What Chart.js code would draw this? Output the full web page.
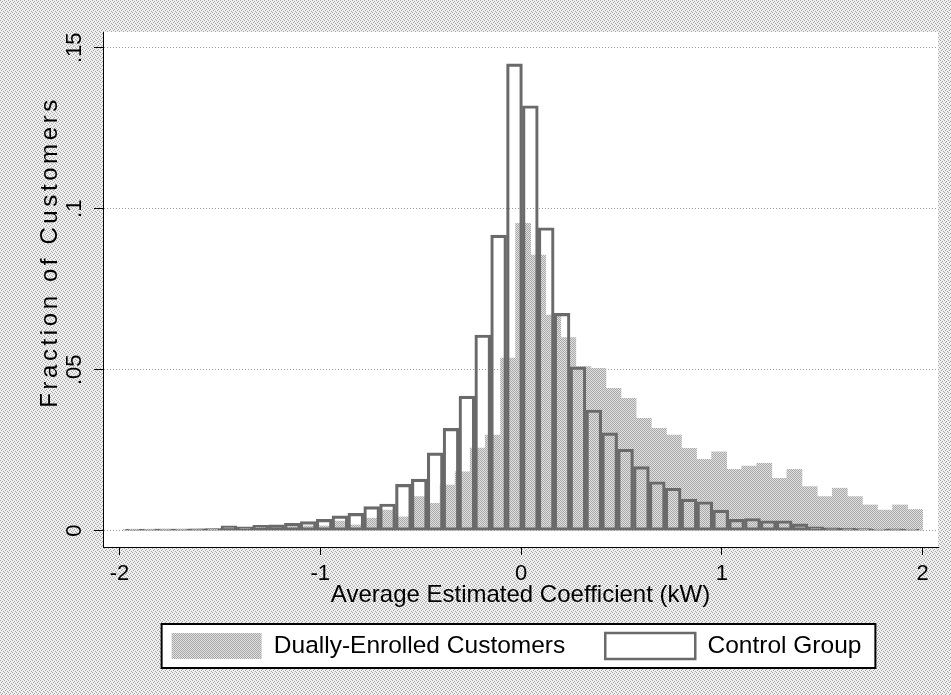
<!DOCTYPE html>
<html>
<head>
<meta charset="utf-8">
<title>Histograma - coeficiente médio estimado</title>
<script src="https://cdn.jsdelivr.net/npm/chart.js@4.4.1/dist/chart.umd.min.js"></script>
<style>
    body { margin: 0; background: #fff; }
    #grafico { display: block; }
</style>
</head>
<body>
<canvas id="grafico" width="951" height="695"></canvas>
<script>
// Clientes com dupla inscrição: centro de cada classe (kW) e fração de clientes
const centrosDuplo = [
    -1.943, -1.868, -1.793, -1.718, -1.642, -1.567, -1.492, -1.417, -1.342, -1.267,
    -1.192, -1.117, -1.042, -0.967, -0.892, -0.816, -0.741, -0.666, -0.591, -0.516,
    -0.441, -0.366, -0.291, -0.216, -0.141, -0.065, 0.010, 0.085, 0.160, 0.235,
    0.310, 0.385, 0.460, 0.535, 0.611, 0.686, 0.761, 0.836, 0.911, 0.986,
    1.061, 1.136, 1.211, 1.286, 1.361, 1.437, 1.512, 1.587, 1.662, 1.737,
    1.812, 1.887, 1.962
];
const fracaoDuplo = [
    0.0004, 0.0004, 0.0005, 0.0005, 0.0005, 0.0006, 0.0007, 0.0008, 0.0009, 0.0010,
    0.0010, 0.0012, 0.0015, 0.0015, 0.0030, 0.0018, 0.0039, 0.0064, 0.0043, 0.0106,
    0.0085, 0.0142, 0.0183, 0.0257, 0.0297, 0.0536, 0.0955, 0.0856, 0.0670, 0.0600,
    0.0510, 0.0504, 0.0442, 0.0411, 0.0349, 0.0318, 0.0297, 0.0256, 0.0222, 0.0245,
    0.0191, 0.0201, 0.0209, 0.0163, 0.0191, 0.0137, 0.0106, 0.0132, 0.0106, 0.0080,
    0.0064, 0.0080, 0.0066
];

// Grupo de controle
const centrosControle = [
    -1.929, -1.850, -1.771, -1.692, -1.613, -1.534, -1.455, -1.376, -1.297, -1.218,
    -1.139, -1.060, -0.981, -0.902, -0.823, -0.744, -0.665, -0.586, -0.507, -0.428,
    -0.349, -0.270, -0.191, -0.112, -0.033, 0.046, 0.125, 0.204, 0.283, 0.362,
    0.441, 0.520, 0.599, 0.678, 0.757, 0.836, 0.915, 0.994, 1.073, 1.152,
    1.231, 1.310, 1.389, 1.468, 1.547, 1.626, 1.705, 1.784, 1.863, 1.942
];
const fracaoControle = [
    0.0005, 0.0005, 0.0005, 0.0005, 0.0006, 0.0007, 0.0015, 0.0012, 0.0017, 0.0018,
    0.0023, 0.0028, 0.0035, 0.0046, 0.0054, 0.0075, 0.0083, 0.0144, 0.0160, 0.0242,
    0.0318, 0.0418, 0.0608, 0.0918, 0.1450, 0.1320, 0.0941, 0.0675, 0.0509, 0.0375,
    0.0304, 0.0253, 0.0199, 0.0152, 0.0132, 0.0098, 0.0090, 0.0064, 0.0035, 0.0038,
    0.0031, 0.0031, 0.0021, 0.0012, 0.0009, 0.0008, 0.0007, 0.0005, 0.0006, 0.0005
];

const ticksX = [-2, -1, 0, 1, 2];
const rotulosX = ['-2', '-1', '0', '1', '2'];
const ticksY = [0, 0.05, 0.1, 0.15];
const rotulosY = ['0', '.05', '.1', '.15'];

const fonte = '"Liberation Sans", Arial, sans-serif';
Chart.defaults.font.family = fonte;
Chart.defaults.color = '#000';

// textura pontilhada (estilo impressão do Stata)
function criarPadrao(tam, pontos, corFundo, corPonto) {
    const c = document.createElement('canvas');
    c.width = tam;
    c.height = tam;
    const g = c.getContext('2d');
    g.fillStyle = corFundo;
    g.fillRect(0, 0, tam, tam);
    g.fillStyle = corPonto;
    pontos.forEach(p => g.fillRect(p[0], p[1], 1, 1));
    return g.createPattern(c, 'repeat');
}

const padraoFundo = criarPadrao(4, [[0, 0], [2, 1], [1, 2], [3, 3]], '#efefef', '#a6a6a6');
const padraoBarra = criarPadrao(2, [[0, 0], [1, 1]], '#e0e0e0', '#a8a8a8');

const limitesX = { min: -2.082, max: 2.076 };

const fundoPlugin = {
    id: 'fundo',
    afterLayout(chart) {
        // legenda um pouco à esquerda, como no original
        chart.legend.left -= 4;
        chart.legend.right -= 4;
    },
    beforeDraw(chart) {
        const ctx = chart.ctx;
        const a = chart.chartArea;
        ctx.save();
        ctx.fillStyle = padraoFundo;
        ctx.fillRect(0, 0, chart.width, chart.height);
        ctx.fillStyle = '#fff';
        ctx.fillRect(a.left, a.top, a.right - a.left, a.bottom - a.top);

        // moldura da legenda
        const caixas = chart.legend.legendHitBoxes;
        if (caixas && caixas.length) {
            const primeira = caixas[0];
            const ultima = caixas[caixas.length - 1];
            const x1 = primeira.left - 10;
            const x2 = ultima.left + ultima.width + 14;
            const y1 = primeira.top - 9;
            const y2 = primeira.top + 35;
            ctx.fillStyle = '#fff';
            ctx.fillRect(x1, y1, x2 - x1, y2 - y1);
            ctx.lineWidth = 2;
            ctx.strokeStyle = '#000';
            ctx.strokeRect(x1, y1, x2 - x1, y2 - y1);
        }
        ctx.restore();
    },
    afterDraw(chart) {
        // título do eixo y com espaçamento entre letras
        const ctx = chart.ctx;
        ctx.save();
        ctx.translate(57, 252);
        ctx.rotate(-Math.PI / 2);
        ctx.font = '24px ' + fonte;
        ctx.letterSpacing = '3.6px';
        ctx.textAlign = 'center';
        ctx.textBaseline = 'alphabetic';
        ctx.fillStyle = '#000';
        ctx.fillText('Fraction of Customers', 0, 0);
        ctx.restore();
    }
};

const ctx = document.getElementById('grafico');

new Chart(ctx, {
    type: 'bar',
    data: {
        datasets: [{
            label: 'Dually-Enrolled Customers',
            data: centrosDuplo.map((c, i) => ({ x: c, y: fracaoDuplo[i] })),
            xAxisID: 'xDuplo',
            backgroundColor: padraoBarra,
            borderWidth: 0,
            barPercentage: 1,
            categoryPercentage: 1,
            grouped: false,
            order: 2
        }, {
            label: 'Control Group',
            data: centrosControle.map((c, i) => ({ x: c, y: fracaoControle[i] })),
            xAxisID: 'x',
            backgroundColor: 'rgba(0,0,0,0)',
            borderColor: '#6a6a6a',
            borderWidth: 2.5,
            borderSkipped: false,
            barPercentage: 1,
            categoryPercentage: 1,
            grouped: false,
            order: 1
        }]
    },
    options: {
        responsive: false,
        animation: false,
        layout: { padding: { top: 32, right: 13, bottom: 26, left: 0 } },
        plugins: {
            tooltip: { enabled: false },
            legend: {
                position: 'bottom',
                fullSize: false,
                labels: {
                    font: { size: 24.5 },
                    boxWidth: 90,
                    boxHeight: 26,
                    padding: 40,
                    sort: (a, b) => a.datasetIndex - b.datasetIndex
                }
            }
        },
        scales: {
            x: {
                type: 'linear',
                offset: false,
                min: limitesX.min,
                max: limitesX.max,
                afterBuildTicks: s => { s.ticks = ticksX.map(v => ({ value: v })); },
                afterFit: s => { s.height = 46; },
                ticks: {
                    autoSkip: false,
                    maxRotation: 0,
                    padding: 6,
                    font: { size: 22 },
                    callback: v => rotulosX[ticksX.indexOf(v)]
                },
                grid: { offset: false, drawOnChartArea: false, tickLength: 8, tickColor: '#000', tickWidth: 1 },
                border: { display: true, color: '#000', width: 1 },
                title: {
                    display: true,
                    text: 'Average Estimated Coefficient (kW)',
                    font: { size: 24 },
                    padding: { top: 0, bottom: -17 }
                }
            },
            xDuplo: {
                type: 'linear',
                display: false,
                offset: false,
                grid: { offset: false },
                min: limitesX.min,
                max: limitesX.max
            },
            y: {
                min: -0.00506,
                max: 0.1549,
                afterBuildTicks: s => { s.ticks = ticksY.map(v => ({ value: v })); },
                afterFit: s => { s.width = 103; },
                ticks: {
                    autoSkip: false,
                    minRotation: 90,
                    maxRotation: 90,
                    crossAlign: 'center',
                    padding: 4,
                    font: { size: 22 },
                    callback: v => rotulosY[ticksY.indexOf(v)]
                },
                grid: { color: '#9a9a9a', lineWidth: 1, tickLength: 9, tickColor: '#000', tickWidth: 1, tickBorderDash: [] },
                border: { display: true, color: '#000', width: 1, dash: [1, 2] }
            }
        }
    },
    plugins: [fundoPlugin]
});
</script>
</body>
</html>
